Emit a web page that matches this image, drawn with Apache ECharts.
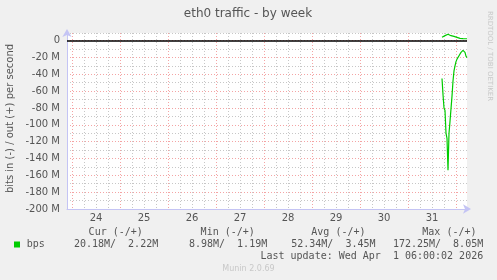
<!DOCTYPE html>
<html><head><meta charset="utf-8">
<script src="https://cdn.jsdelivr.net/npm/echarts@6/dist/echarts.min.js"></script>
<style>html,body{margin:0;padding:0;background:#f0f0f0}#c{width:497px;height:280px}</style>
</head><body><div id="c"></div>
<script>
// hours since Mar 24 00:00
const hours = [185,185.5,186,186.5,187,187.5,188,188.5,189,189.5,190,190.5,191,191.5,192,192.5,193,193.5,194,194.5,195,195.5,196,196.5,197,197.5];
// bits in (negative), millions
const inValues = [-45,-64,-80,-83,-110,-116,-154,-110,-96,-94,-66,-48,-36,-30,-25,-22,-20,-18,-16,-14,-12.6,-11.6,-12.5,-14,-18.5,-20.2];
// bits out (positive), millions
const outValues = [4.0,4.6,5.3,5.9,6.5,7.1,7.6,8.0,6.8,5.8,4.6,4.5,5.0,4.6,4.2,3.8,3.2,2.8,2.6,2.4,2.3,2.3,2.2,2.2,2.2,2.2];
const dayLabelHours = [12,36,60,84,108,132,156,180];
const dayLabels = ['24','25','26','27','28','29','30','31'];
const gridHours = [0,6,12,18,24,30,36,42,48,54,60,66,72,78,84,90,96,102,108,114,120,126,132,138,144,150,156,162,168,174,180,186,192];
const legendHeads = ['Cur (-/+)','Min (-/+)','Avg (-/+)','Max (-/+)'];
const legendVals = ['20.18M/  2.22M','8.98M/  1.19M','52.34M/  3.45M','172.25M/  8.05M'];
const seriesName = 'bps';
const titleText = 'eth0 traffic - by week';
const yName = 'bits in (-) / out (+) per second';
const updateText = 'Last update: Wed Apr  1 06:00:02 2026';
const footerText = 'Munin 2.0.69';
const sideText = 'RRDTOOL / TOBI OETIKER';

const RED = 'rgba(235,90,90,0.55)';
const GRAY = 'rgba(175,175,175,0.7)';
const AXIS = '#c4c4f4';
const TXT = '#555';
const MONO = '10px "DejaVu Sans Mono"';

const headRight = [142.8, 254.8, 365.5, 476.5];
const valRight = [158.2, 267.2, 375.5, 483.2];

const graphics = [
  {type:'text', x:248, y:14, style:{text:titleText, font:'12px "DejaVu Sans"', fill:TXT, align:'center', verticalAlign:'middle'}},
  {type:'text', x:10, y:118.5, rotation:Math.PI/2, style:{text:yName, font:'10px "DejaVu Sans"', fill:TXT, align:'center', verticalAlign:'middle'}},
  {type:'text', x:490, y:56, rotation:-Math.PI/2, style:{text:sideText, font:'7px "DejaVu Sans"', fill:'#c8c8c8', align:'center', verticalAlign:'middle'}},
  {type:'rect', shape:{x:14, y:241.5, width:6, height:6}, style:{fill:'#00cc00'}},
  {type:'text', x:26.7, y:244.3, style:{text:seriesName, font:MONO, fill:TXT, align:'left', verticalAlign:'middle'}},
  {type:'text', x:483.2, y:256.3, style:{text:updateText, font:MONO, fill:TXT, align:'right', verticalAlign:'middle'}},
  {type:'text', x:248.5, y:269, style:{text:footerText, font:'8px "DejaVu Sans"', fill:'#c8c8c8', align:'center', verticalAlign:'middle'}}
];
legendHeads.forEach((t,i)=>graphics.push({type:'text', x:headRight[i], y:232.7, style:{text:t, font:MONO, fill:TXT, align:'right', verticalAlign:'middle'}}));
legendVals.forEach((t,i)=>graphics.push({type:'text', x:valRight[i], y:244.3, style:{text:t, font:MONO, fill:TXT, align:'right', verticalAlign:'middle'}}));

const chart = echarts.init(document.getElementById('c'), null, {renderer:'canvas'});
chart.setOption({
  animation:false,
  backgroundColor:'#f0f0f0',
  grid:{left:67, top:33, width:400, height:176, show:true, backgroundColor:'#fff', borderWidth:0},
  xAxis:{
    type:'value', min:-2.5, max:197.5,
    axisLine:{show:true, onZero:false, lineStyle:{color:AXIS, width:1}, symbol:['none','arrow'], symbolSize:[7,8], symbolOffset:[0,4]},
    axisTick:{show:false, customValues:gridHours},
    axisLabel:{customValues:dayLabelHours, formatter:v=>dayLabels[dayLabelHours.indexOf(v)], color:TXT, fontFamily:'DejaVu Sans', fontSize:10, margin:4},
    splitLine:{show:true, customValues:gridHours, lineStyle:{color:[RED,GRAY,GRAY,GRAY], type:[1,2], width:1}}
  },
  yAxis:{
    type:'value', min:-200, max:9, interval:10,
    axisLine:{show:true, onZero:false, lineStyle:{color:AXIS, width:1}, symbol:['none','arrow'], symbolSize:[7,8], symbolOffset:[0,4]},
    axisTick:{show:false},
    axisLabel:{formatter:v=>(v===0?'0':(v%20===0?v+' M':'')), color:TXT, fontFamily:'DejaVu Sans', fontSize:10, margin:7, showMaxLabel:false},
    splitLine:{show:true, lineStyle:{color:[RED,GRAY], type:[1,2], width:1}}
  },
  graphic:graphics,
  series:[
    {type:'line', name:'in', data:hours.map((h,i)=>[h,inValues[i]]), showSymbol:false, lineStyle:{color:'#00cc00', width:1.2}, itemStyle:{color:'#00cc00'},
     markLine:{silent:true, symbol:['none','none'], label:{show:false}, lineStyle:{color:'#000', width:1.5, type:'solid'}, data:[{yAxis:0}]}},
    {type:'line', name:'out', data:hours.map((h,i)=>[h,outValues[i]]), showSymbol:false, lineStyle:{color:'#00cc00', width:1.2}, itemStyle:{color:'#00cc00'}}
  ]
});
</script></body></html>
